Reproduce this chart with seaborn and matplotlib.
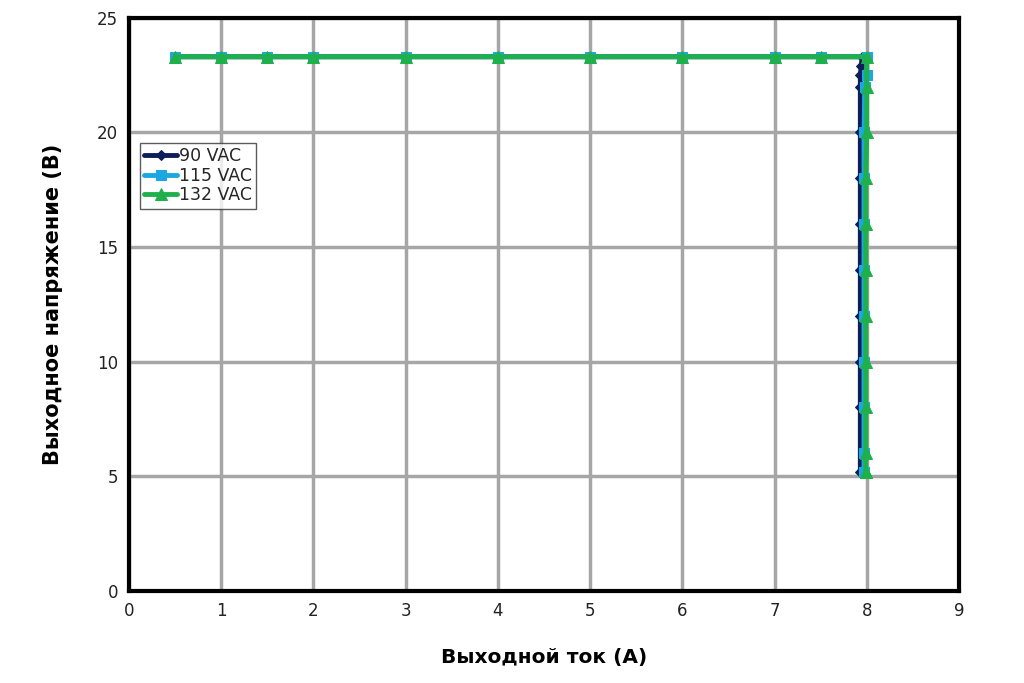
import pandas as pd
import matplotlib
matplotlib.use("Agg")
import matplotlib.pyplot as plt
import seaborn as sns

# current (A) / voltage (V) for each input voltage
i_90 = [0.5, 1, 1.5, 2, 3, 4, 5, 6, 7, 7.5, 7.95, 7.94, 7.93, 7.93, 7.93, 7.93, 7.93, 7.93, 7.93, 7.93, 7.93, 7.93]
v_90 = [23.3, 23.3, 23.3, 23.3, 23.3, 23.3, 23.3, 23.3, 23.3, 23.3, 23.3, 22.9, 22.5, 22.0, 20, 18, 16, 14, 12, 10, 8, 5.2]
i_115 = [0.5, 1, 1.5, 2, 3, 4, 5, 6, 7, 7.5, 8.0, 8.0, 7.98, 7.97, 7.97, 7.97, 7.97, 7.97, 7.97, 7.97, 7.97, 7.97, 7.97]
v_115 = [23.3, 23.3, 23.3, 23.3, 23.3, 23.3, 23.3, 23.3, 23.3, 23.3, 23.3, 22.5, 22.0, 20, 18, 16, 14, 12, 10, 8, 6, 5.2, 5.2]
i_132 = [0.5, 1, 1.5, 2, 3, 4, 5, 6, 7, 7.5, 8.0, 8.0, 8.0, 7.99, 7.99, 7.99, 7.99, 7.99, 7.99, 7.99, 7.99, 7.99]
v_132 = [23.3, 23.3, 23.3, 23.3, 23.3, 23.3, 23.3, 23.3, 23.3, 23.3, 23.3, 22.0, 20, 18, 16, 14, 12, 10, 8, 6, 5.2, 5.2]

series = [
    ("90 VAC", i_90, v_90, "#0e1e5b", "D", 5),
    ("115 VAC", i_115, v_115, "#1ba8e2", "s", 7),
    ("132 VAC", i_132, v_132, "#1fb04b", "^", 8),
]

sns.set_style("white")
plt.rcParams["font.family"] = ["DejaVu Sans"]

fig = plt.figure(figsize=(10.24, 6.83), dpi=100)
ax = fig.add_axes([0.126, 0.135, 0.8105, 0.839])

for name, xs, ys, col, mk, ms in series:
    df = pd.DataFrame({"x": xs, "y": ys})
    sns.lineplot(data=df, x="x", y="y", sort=False, estimator=None, ax=ax,
                 color=col, marker=mk, markersize=ms, markeredgecolor=col,
                 linewidth=3.5, label=name)

ax.set_xlim(0, 9)
ax.set_ylim(0, 25)
ax.set_xticks(range(0, 10))
ax.set_yticks(range(0, 30, 5))
ax.grid(True, color="#a6a6a6", linewidth=2.5)
ax.set_axisbelow(True)
for s in ax.spines.values():
    s.set_color("black")
    s.set_linewidth(3)
ax.tick_params(axis="both", labelsize=12, length=0, pad=8, colors="#222222")

ax.set_xlabel("Выходной ток (А)", fontsize=14.5, fontweight="bold", labelpad=20, color="black")
ax.set_ylabel("Выходное напряжение (В)", fontsize=15, fontweight="bold", labelpad=24, color="black")

leg = ax.legend(loc="upper left", bbox_to_anchor=(0.013, 0.782), fontsize=12.5,
                frameon=True, fancybox=False, handlelength=1.9, handletextpad=0.1,
                borderpad=0.25, labelspacing=0.1, borderaxespad=0)
leg.get_frame().set_edgecolor("#333333")
leg.get_frame().set_linewidth(1)

fig.savefig("out.png", dpi=100)
